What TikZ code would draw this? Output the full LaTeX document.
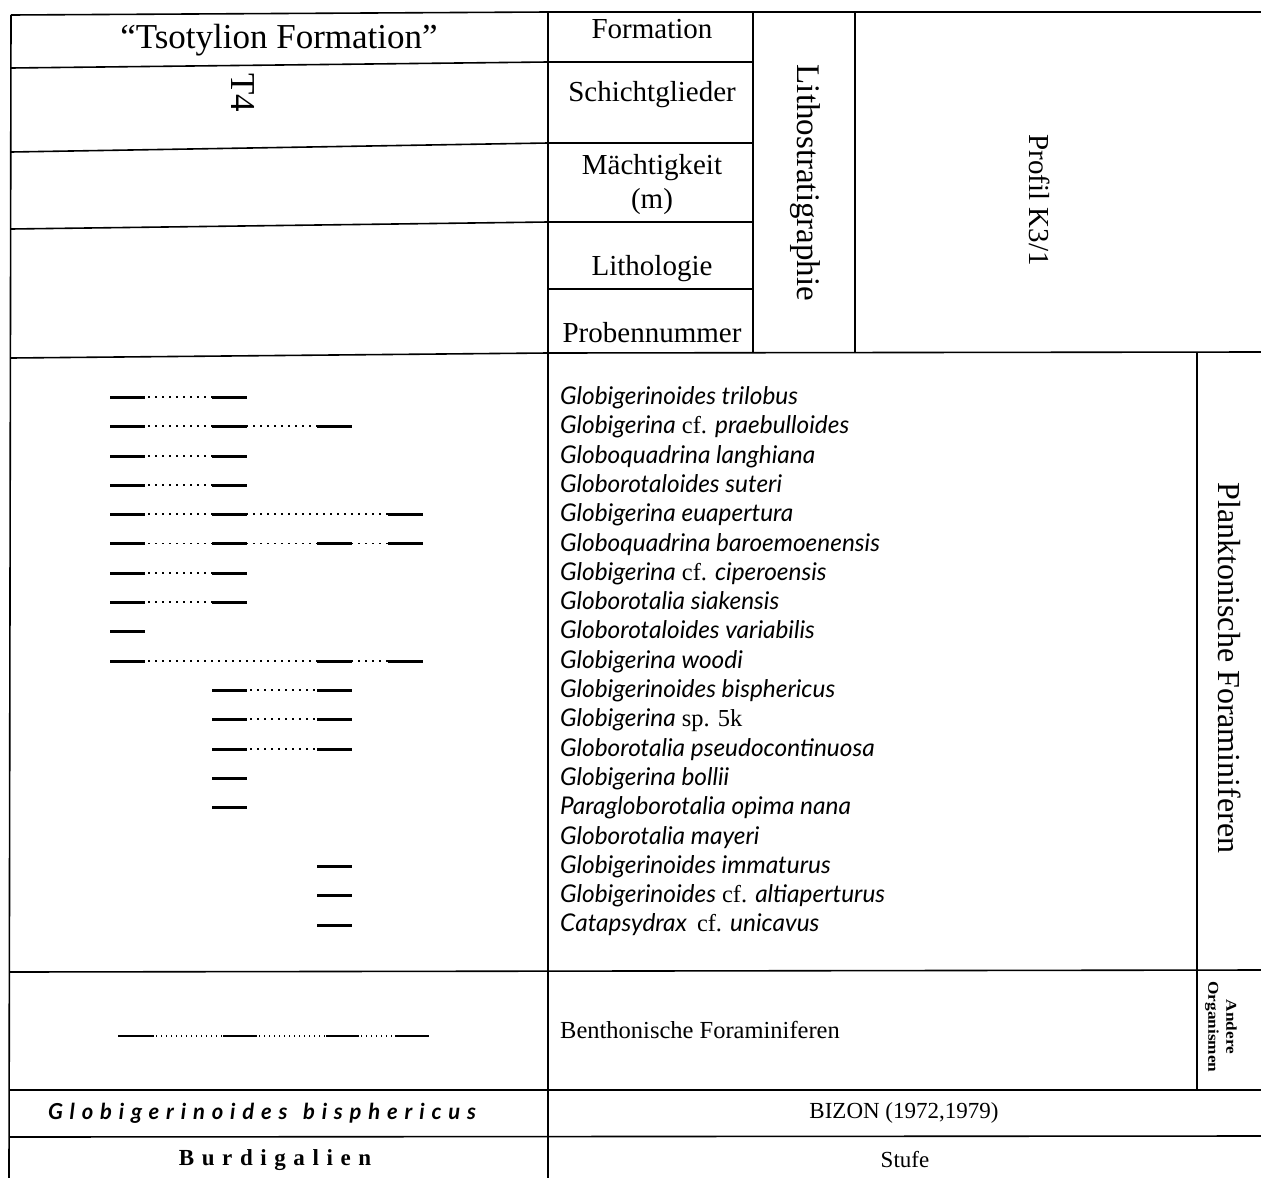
\documentclass[tikz,border=0pt]{standalone}
\usepackage{fontspec}
\setmainfont{Liberation Serif}
\newfontfamily\specfont{Lato}
\newcommand\spc[1]{{\specfont\itshape #1}}
\begin{document}
\begin{tikzpicture}[x=1pt,y=-1pt,
  grid/.style={line width=1.6pt},
  seg/.style={line width=3pt},
  dots/.style={line width=1.8pt, dash pattern=on 1.8pt off 5.2pt},
  bseg/.style={line width=2.6pt},
  bdots/.style={line width=1.4pt, dash pattern=on 1.4pt off 3.6pt},
  head/.style={font=\fontsize{29}{33}\selectfont, inner sep=0pt, align=center},
  big/.style={font=\fontsize{35}{38}\selectfont, inner sep=0pt},
  spec/.style={font=\fontsize{24.4}{27}\selectfont, inner sep=0pt, anchor=base west},
  foot/.style={font=\fontsize{21}{24}\selectfont, inner sep=0pt}]
\useasboundingbox (0,0) rectangle (1261,1178);
% ---- grid lines ----
\draw[grid] (11,15) -- (548,12) -- (1261,12);
\draw[grid] (11,15) -- (9,1178);
\draw[grid] (548,12) -- (548,1178);
\draw[grid] (11,68) -- (548,62);
\draw[grid] (11,152) -- (548,143);
\draw[grid] (11,229) -- (548,222);
\draw[grid] (11,358) -- (548,353) -- (1261,352);
\draw[grid] (548,62) -- (753,62);
\draw[grid] (548,143) -- (753,143);
\draw[grid] (548,222) -- (753,222);
\draw[grid] (548,289) -- (753,289);
\draw[grid] (753,12) -- (753,352);
\draw[grid] (855,12) -- (855,352);
\draw[grid] (1197,352) -- (1197,1090);
\draw[grid] (10,972) -- (1261,970);
\draw[grid] (10,1090) -- (1261,1090);
\draw[grid] (10,1137) -- (1261,1136);
% ---- header texts ----
\node[big] (tsot) at (279,40) {“Tsotylion Formation”};
\node[big, rotate=-90] (t4) at (243,93) {T4};
\node[head] (form) at (652,29) {Formation};
\node[head] (schi) at (652,95) {Schichtglieder};
\node[head, font=\fontsize{29}{34}\selectfont] (maech) at (652,185) {Mächtigkeit\\(m)};
\node[head] (lith) at (652,269) {Lithologie};
\node[head] (prob) at (652,333) {Probennummer};
\node[head, font=\fontsize{33}{36}\selectfont, rotate=-90] (lstr) at (805,183) {Lithostratigraphie};
\node[head, rotate=-90] (prof) at (1040,200) {Profil K3/1};
\node[head, font=\fontsize{32}{36}\selectfont, rotate=-90] (plank) at (1230,668) {Planktonische Foraminiferen};
\node[inner sep=0pt, rotate=-90, align=center, font=\fontsize{15}{18}\selectfont\bfseries] (andere) at (1221,1027) {\scalebox{1.15}[1]{Andere}\\\scalebox{1.15}[1]{Organismen}};
% ---- species ----
\node[spec] (s1) at (560,404) {\spc{Globigerinoides trilobus}};
\node[spec] (s2) at (560,433) {\spc{Globigerina} cf. \spc{praebulloides}};
\node[spec] (s3) at (560,463) {\spc{Globoquadrina langhiana}};
\node[spec] (s4) at (560,492) {\spc{Globorotaloides suteri}};
\node[spec] (s5) at (560,521) {\spc{Globigerina euapertura}};
\node[spec] (s6) at (560,551) {\spc{Globoquadrina baroemoenensis}};
\node[spec] (s7) at (560,580) {\spc{Globigerina} cf. \spc{ciperoensis}};
\node[spec] (s8) at (560,609) {\spc{Globorotalia siakensis}};
\node[spec] (s9) at (560,638) {\spc{Globorotaloides variabilis}};
\node[spec] (s10) at (560,668) {\spc{Globigerina woodi}};
\node[spec] (s11) at (560,697) {\spc{Globigerinoides bisphericus}};
\node[spec] (s12) at (560,726) {\spc{Globigerina} sp. 5k};
\node[spec] (s13) at (560,756) {\spc{Globorotalia pseudocontinuosa}};
\node[spec] (s14) at (560,785) {\spc{Globigerina bollii}};
\node[spec] (s15) at (560,814) {\spc{Paragloborotalia opima nana}};
\node[spec] (s16) at (560,844) {\spc{Globorotalia mayeri}};
\node[spec] (s17) at (560,873) {\spc{Globigerinoides immaturus}};
\node[spec] (s18) at (560,902) {\spc{Globigerinoides} cf. \spc{altiaperturus}};
\node[spec] (s19) at (560,931) {\spc{Catapsydrax}\, cf. \spc{unicavus}};
% ---- range lines ----
\foreach \y/\a/\b in {397/145/212, 426/145/317, 456/145/212, 485/145/212, 514/145/388,
  543.5/145/388, 573/145/212, 602/145/212, 661/145/388, 690/247/317, 719/247/317, 749/247/317}
  \draw[dots] (\a+3,\y) -- (\b,\y);
\foreach \y/\s in {397/{110,212}, 426/{110,212,317}, 456/{110,212}, 485/{110,212},
  514/{110,212,388}, 543.5/{110,212,317,388}, 573/{110,212}, 602/{110,212}, 631/{110},
  661/{110,317,388}, 690/{212,317}, 719/{212,317}, 749/{212,317}, 778/{212}, 807/{212},
  866/{317}, 895/{317}, 925/{317}}
  \foreach \x in \s { \draw[seg] (\x,\y) -- ++(35,0); };
% ---- benthic ----
\draw[bdots] (156,1036) -- (223,1036);
\draw[bdots] (259,1036) -- (326,1036);
\draw[bdots] (361,1036) -- (395,1036);
\foreach \x/\l in {118/36, 223/34, 326/33, 395/34}
  \draw[bseg] (\x,1036) -- ++(\l,0);
\node[font=\fontsize{24.5}{26}\selectfont, inner sep=0pt, anchor=base west] (benth) at (560,1038) {Benthonische Foraminiferen};
% ---- bottom rows ----
\node[foot, font=\fontsize{22}{24}\selectfont\specfont\bfseries\itshape\addfontfeatures{LetterSpace=31}] (zone) at (262,1113) {Globigerinoides\hspace{4pt} bisphericus};
\node[foot, font=\fontsize{23}{26}\selectfont] (bizon) at (904,1113) {BIZON (1972,1979)};
\node[foot, font=\fontsize{23}{24}\selectfont\bfseries\addfontfeatures{LetterSpace=33}] (burd) at (275,1160) {Burdigalien};
\node[foot, font=\fontsize{23}{26}\selectfont] (stufe) at (905,1160) {Stufe};
\end{tikzpicture}
\end{document}
